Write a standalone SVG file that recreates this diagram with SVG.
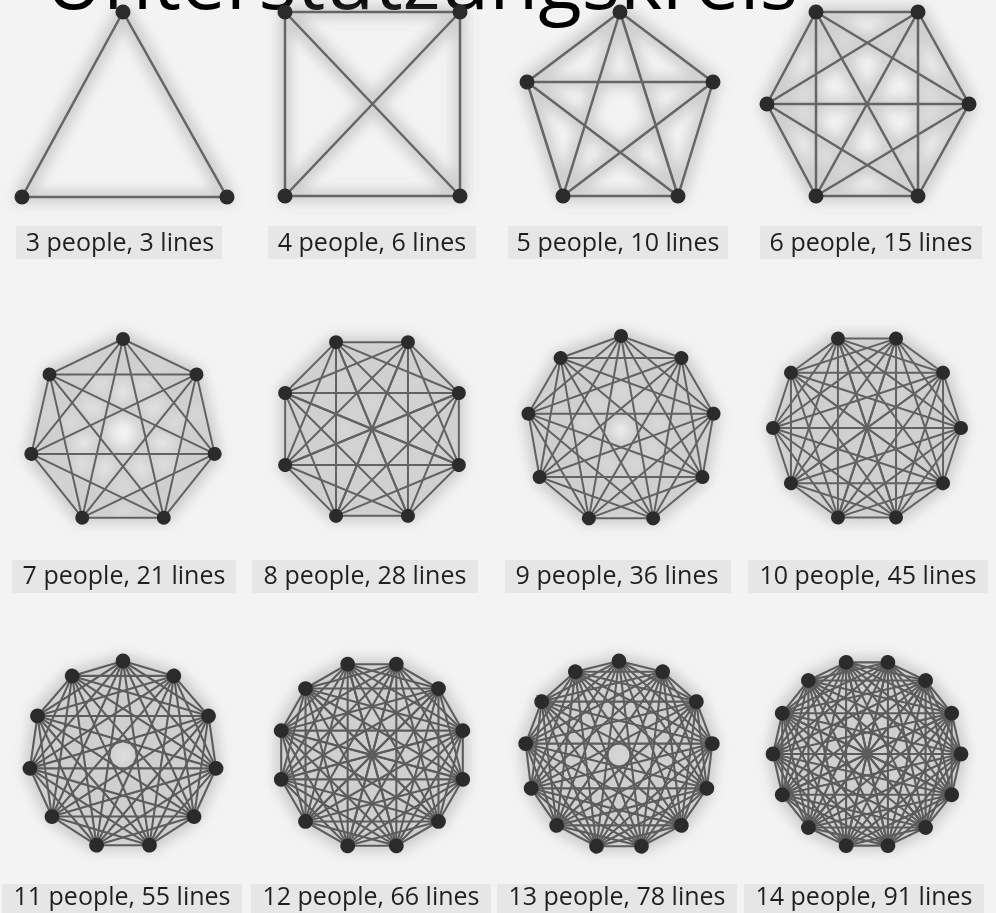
<svg xmlns="http://www.w3.org/2000/svg" width="996" height="913" viewBox="0 0 996 913">
<defs>
<style>
.e{stroke:#656565;stroke-width:2.5;stroke-linecap:round;fill:none}
.d{stroke:#626262;stroke-width:2;stroke-linecap:round;fill:none}
.d3{stroke:#5c5c5c;stroke-width:2.1;stroke-linecap:round;fill:none}
.n{fill:#2b2b2b}
.lb{font-family:"Open Sans","Noto Sans","DejaVu Sans",sans-serif;font-size:25px;fill:#1f1f1f;text-anchor:middle}
.bg{fill:#d2d2d2;opacity:0.38}
.title{font-family:"Open Sans","Noto Sans","DejaVu Sans",sans-serif;font-size:80px;fill:#000}
</style>
<filter id="halo" filterUnits="userSpaceOnUse" x="0" y="0" width="996" height="913">
<feMorphology in="SourceAlpha" operator="dilate" radius="5" result="d"/>
<feGaussianBlur in="d" stdDeviation="6" result="b"/>
<feFlood flood-color="#8a8a8a" flood-opacity="0.34"/>
<feComposite in2="b" operator="in"/>
</filter>
<circle id="dot" cx="0" cy="-94" r="7"/>
<circle id="dot3" cx="0" cy="-94" r="7.4"/>
<path id="s7" d="M0-94L73.49-58.61M0-94L91.64 20.92M0-94L40.78 84.69"/>
<path id="s8" d="M0-94L66.47-66.47M0-94L94 0M0-94L66.47 66.47M0-94L0 94"/>
<path id="s9" d="M0-94L60.42-72.01M0-94L92.57-16.32M0-94L81.41 47M0-94L32.15 88.33"/>
<path id="s10" d="M0-94L55.25-76.05M0-94L89.4-29.05M0-94L89.4 29.05M0-94L55.25 76.05M0-94L0 94"/>
<path id="s11" d="M0-94L50.82-79.08M0-94L85.51-39.05M0-94L93.04 13.38M0-94L71.04 61.56M0-94L26.48 90.19"/>
<path id="s12" d="M0-94L47-81.41M0-94L81.41-47M0-94L94 0M0-94L81.41 47M0-94L47 81.41M0-94L0 94"/>
<path id="s13" d="M0-94L43.68-83.23M0-94L77.36-53.4M0-94L93.31-11.33M0-94L87.89 33.33M0-94L62.33 70.36M0-94L22.5 91.27"/>
<path id="s14" d="M0-94L40.78-84.69M0-94L73.49-58.61M0-94L91.64-20.92M0-94L91.64 20.92M0-94L73.49 58.61M0-94L40.78 84.69M0-94L0 94"/>
</defs>
<rect width="996" height="913" fill="#f3f3f3"/>
<text class="title" x="45" y="9">Unterstützungskreis</text>

<g id="halos" filter="url(#halo)">
<use href="#l3"/><use href="#l4"/><use href="#l5"/><use href="#l6"/>
<use href="#l7"/><use href="#l8"/><use href="#l9"/><use href="#l10"/>
<use href="#l11"/><use href="#l12"/><use href="#l13"/><use href="#l14"/>
</g>

<g id="label-bgs">
<rect class="bg" x="16" y="226" width="206" height="33"/>
<rect class="bg" x="268" y="226" width="208" height="33"/>
<rect class="bg" x="508" y="226" width="220" height="33"/>
<rect class="bg" x="760" y="226" width="222" height="33"/>
<rect class="bg" x="12" y="560" width="224" height="33"/>
<rect class="bg" x="252" y="560" width="226" height="33"/>
<rect class="bg" x="505" y="560" width="226" height="33"/>
<rect class="bg" x="748" y="560" width="240" height="33"/>
<rect class="bg" x="2" y="884" width="240" height="29"/>
<rect class="bg" x="251" y="884" width="240" height="29"/>
<rect class="bg" x="497" y="884" width="240" height="29"/>
<rect class="bg" x="744" y="884" width="240" height="29"/>
</g>

<g id="connectors">
<g id="l3" class="e">
<path d="M123 12L22 197L227 197Z"/>
</g>
<g id="l4" class="e">
<path d="M285 12L460 12L460 196L285 196ZM285 12L460 196M460 12L285 196"/>
</g>
<g id="l5" class="e">
<path d="M620 12L527 82M620 12L713 82M620 12L563 196M620 12L678 196M527 82L713 82M527 82L563 196M527 82L678 196M713 82L563 196M713 82L678 196M563 196L678 196"/>
</g>
<g id="l6" class="e">
<path d="M816 12L918 12M816 12L767 104M816 12L969 104M816 12L816 196M816 12L918 196M918 12L767 104M918 12L969 104M918 12L816 196M918 12L918 196M767 104L969 104M767 104L816 196M767 104L918 196M969 104L816 196M969 104L918 196M816 196L918 196"/>
</g>
<g id="l7" class="d" transform="translate(123,433)">
<use href="#s7"/><use href="#s7" transform="rotate(51.429)"/><use href="#s7" transform="rotate(102.857)"/><use href="#s7" transform="rotate(154.286)"/><use href="#s7" transform="rotate(205.714)"/><use href="#s7" transform="rotate(257.143)"/><use href="#s7" transform="rotate(308.571)"/>
</g>
<g id="l8" class="d" transform="translate(372,429) rotate(22.5)">
<use href="#s8"/><use href="#s8" transform="rotate(45)"/><use href="#s8" transform="rotate(90)"/><use href="#s8" transform="rotate(135)"/><use href="#s8" transform="rotate(180)"/><use href="#s8" transform="rotate(225)"/><use href="#s8" transform="rotate(270)"/><use href="#s8" transform="rotate(315)"/>
</g>
<g id="l9" class="d" transform="translate(621,430)">
<use href="#s9"/><use href="#s9" transform="rotate(40)"/><use href="#s9" transform="rotate(80)"/><use href="#s9" transform="rotate(120)"/><use href="#s9" transform="rotate(160)"/><use href="#s9" transform="rotate(200)"/><use href="#s9" transform="rotate(240)"/><use href="#s9" transform="rotate(280)"/><use href="#s9" transform="rotate(320)"/>
</g>
<g id="l10" class="d" transform="translate(867,428) rotate(18)">
<use href="#s10"/><use href="#s10" transform="rotate(36)"/><use href="#s10" transform="rotate(72)"/><use href="#s10" transform="rotate(108)"/><use href="#s10" transform="rotate(144)"/><use href="#s10" transform="rotate(180)"/><use href="#s10" transform="rotate(216)"/><use href="#s10" transform="rotate(252)"/><use href="#s10" transform="rotate(288)"/><use href="#s10" transform="rotate(324)"/>
</g>
<g id="l11" class="d3" transform="translate(123,755)">
<use href="#s11"/><use href="#s11" transform="rotate(32.727)"/><use href="#s11" transform="rotate(65.455)"/><use href="#s11" transform="rotate(98.182)"/><use href="#s11" transform="rotate(130.909)"/><use href="#s11" transform="rotate(163.636)"/><use href="#s11" transform="rotate(196.364)"/><use href="#s11" transform="rotate(229.091)"/><use href="#s11" transform="rotate(261.818)"/><use href="#s11" transform="rotate(294.545)"/><use href="#s11" transform="rotate(327.273)"/>
</g>
<g id="l12" class="d3" transform="translate(372,755) rotate(15)">
<use href="#s12"/><use href="#s12" transform="rotate(30)"/><use href="#s12" transform="rotate(60)"/><use href="#s12" transform="rotate(90)"/><use href="#s12" transform="rotate(120)"/><use href="#s12" transform="rotate(150)"/><use href="#s12" transform="rotate(180)"/><use href="#s12" transform="rotate(210)"/><use href="#s12" transform="rotate(240)"/><use href="#s12" transform="rotate(270)"/><use href="#s12" transform="rotate(300)"/><use href="#s12" transform="rotate(330)"/>
</g>
<g id="l13" class="d3" transform="translate(619,755)">
<use href="#s13"/><use href="#s13" transform="rotate(27.692)"/><use href="#s13" transform="rotate(55.385)"/><use href="#s13" transform="rotate(83.077)"/><use href="#s13" transform="rotate(110.769)"/><use href="#s13" transform="rotate(138.462)"/><use href="#s13" transform="rotate(166.154)"/><use href="#s13" transform="rotate(193.846)"/><use href="#s13" transform="rotate(221.538)"/><use href="#s13" transform="rotate(249.231)"/><use href="#s13" transform="rotate(276.923)"/><use href="#s13" transform="rotate(304.615)"/><use href="#s13" transform="rotate(332.308)"/>
</g>
<g id="l14" class="d3" transform="translate(867,754) rotate(12.857)">
<use href="#s14"/><use href="#s14" transform="rotate(25.714)"/><use href="#s14" transform="rotate(51.429)"/><use href="#s14" transform="rotate(77.143)"/><use href="#s14" transform="rotate(102.857)"/><use href="#s14" transform="rotate(128.571)"/><use href="#s14" transform="rotate(154.286)"/><use href="#s14" transform="rotate(180)"/><use href="#s14" transform="rotate(205.714)"/><use href="#s14" transform="rotate(231.429)"/><use href="#s14" transform="rotate(257.143)"/><use href="#s14" transform="rotate(282.857)"/><use href="#s14" transform="rotate(308.571)"/><use href="#s14" transform="rotate(334.286)"/>
</g>
</g>

<g id="nodes">
<g id="n3" class="n"><circle cx="123" cy="12" r="7.5"/><circle cx="22" cy="197" r="7.5"/><circle cx="227" cy="197" r="7.5"/></g>
<g id="n4" class="n"><circle cx="285" cy="12" r="7.5"/><circle cx="460" cy="12" r="7.5"/><circle cx="285" cy="196" r="7.5"/><circle cx="460" cy="196" r="7.5"/></g>
<g id="n5" class="n"><circle cx="620" cy="12" r="7.5"/><circle cx="527" cy="82" r="7.5"/><circle cx="713" cy="82" r="7.5"/><circle cx="563" cy="196" r="7.5"/><circle cx="678" cy="196" r="7.5"/></g>
<g id="n6" class="n"><circle cx="816" cy="12" r="7.5"/><circle cx="918" cy="12" r="7.5"/><circle cx="767" cy="104" r="7.5"/><circle cx="969" cy="104" r="7.5"/><circle cx="816" cy="196" r="7.5"/><circle cx="918" cy="196" r="7.5"/></g>
<g id="n7" class="n" transform="translate(123,433)">
<use href="#dot"/><use href="#dot" transform="rotate(51.429)"/><use href="#dot" transform="rotate(102.857)"/><use href="#dot" transform="rotate(154.286)"/><use href="#dot" transform="rotate(205.714)"/><use href="#dot" transform="rotate(257.143)"/><use href="#dot" transform="rotate(308.571)"/>
</g>
<g id="n8" class="n" transform="translate(372,429) rotate(22.5)">
<use href="#dot"/><use href="#dot" transform="rotate(45)"/><use href="#dot" transform="rotate(90)"/><use href="#dot" transform="rotate(135)"/><use href="#dot" transform="rotate(180)"/><use href="#dot" transform="rotate(225)"/><use href="#dot" transform="rotate(270)"/><use href="#dot" transform="rotate(315)"/>
</g>
<g id="n9" class="n" transform="translate(621,430)">
<use href="#dot"/><use href="#dot" transform="rotate(40)"/><use href="#dot" transform="rotate(80)"/><use href="#dot" transform="rotate(120)"/><use href="#dot" transform="rotate(160)"/><use href="#dot" transform="rotate(200)"/><use href="#dot" transform="rotate(240)"/><use href="#dot" transform="rotate(280)"/><use href="#dot" transform="rotate(320)"/>
</g>
<g id="n10" class="n" transform="translate(867,428) rotate(18)">
<use href="#dot"/><use href="#dot" transform="rotate(36)"/><use href="#dot" transform="rotate(72)"/><use href="#dot" transform="rotate(108)"/><use href="#dot" transform="rotate(144)"/><use href="#dot" transform="rotate(180)"/><use href="#dot" transform="rotate(216)"/><use href="#dot" transform="rotate(252)"/><use href="#dot" transform="rotate(288)"/><use href="#dot" transform="rotate(324)"/>
</g>
<g id="n11" class="n" transform="translate(123,755)">
<use href="#dot3"/><use href="#dot3" transform="rotate(32.727)"/><use href="#dot3" transform="rotate(65.455)"/><use href="#dot3" transform="rotate(98.182)"/><use href="#dot3" transform="rotate(130.909)"/><use href="#dot3" transform="rotate(163.636)"/><use href="#dot3" transform="rotate(196.364)"/><use href="#dot3" transform="rotate(229.091)"/><use href="#dot3" transform="rotate(261.818)"/><use href="#dot3" transform="rotate(294.545)"/><use href="#dot3" transform="rotate(327.273)"/>
</g>
<g id="n12" class="n" transform="translate(372,755) rotate(15)">
<use href="#dot3"/><use href="#dot3" transform="rotate(30)"/><use href="#dot3" transform="rotate(60)"/><use href="#dot3" transform="rotate(90)"/><use href="#dot3" transform="rotate(120)"/><use href="#dot3" transform="rotate(150)"/><use href="#dot3" transform="rotate(180)"/><use href="#dot3" transform="rotate(210)"/><use href="#dot3" transform="rotate(240)"/><use href="#dot3" transform="rotate(270)"/><use href="#dot3" transform="rotate(300)"/><use href="#dot3" transform="rotate(330)"/>
</g>
<g id="n13" class="n" transform="translate(619,755)">
<use href="#dot3"/><use href="#dot3" transform="rotate(27.692)"/><use href="#dot3" transform="rotate(55.385)"/><use href="#dot3" transform="rotate(83.077)"/><use href="#dot3" transform="rotate(110.769)"/><use href="#dot3" transform="rotate(138.462)"/><use href="#dot3" transform="rotate(166.154)"/><use href="#dot3" transform="rotate(193.846)"/><use href="#dot3" transform="rotate(221.538)"/><use href="#dot3" transform="rotate(249.231)"/><use href="#dot3" transform="rotate(276.923)"/><use href="#dot3" transform="rotate(304.615)"/><use href="#dot3" transform="rotate(332.308)"/>
</g>
<g id="n14" class="n" transform="translate(867,754) rotate(12.857)">
<use href="#dot3"/><use href="#dot3" transform="rotate(25.714)"/><use href="#dot3" transform="rotate(51.429)"/><use href="#dot3" transform="rotate(77.143)"/><use href="#dot3" transform="rotate(102.857)"/><use href="#dot3" transform="rotate(128.571)"/><use href="#dot3" transform="rotate(154.286)"/><use href="#dot3" transform="rotate(180)"/><use href="#dot3" transform="rotate(205.714)"/><use href="#dot3" transform="rotate(231.429)"/><use href="#dot3" transform="rotate(257.143)"/><use href="#dot3" transform="rotate(282.857)"/><use href="#dot3" transform="rotate(308.571)"/><use href="#dot3" transform="rotate(334.286)"/>
</g>
</g>

<g id="labels" class="lb">
<text x="120" y="251">3 people, 3 lines</text>
<text x="372" y="251">4 people, 6 lines</text>
<text x="618" y="251">5 people, 10 lines</text>
<text x="871" y="251">6 people, 15 lines</text>
<text x="124" y="584">7 people, 21 lines</text>
<text x="365" y="584">8 people, 28 lines</text>
<text x="617" y="584">9 people, 36 lines</text>
<text x="868" y="584">10 people, 45 lines</text>
<text x="122" y="905">11 people, 55 lines</text>
<text x="371" y="905">12 people, 66 lines</text>
<text x="617" y="905">13 people, 78 lines</text>
<text x="864" y="905">14 people, 91 lines</text>
</g>
</svg>
